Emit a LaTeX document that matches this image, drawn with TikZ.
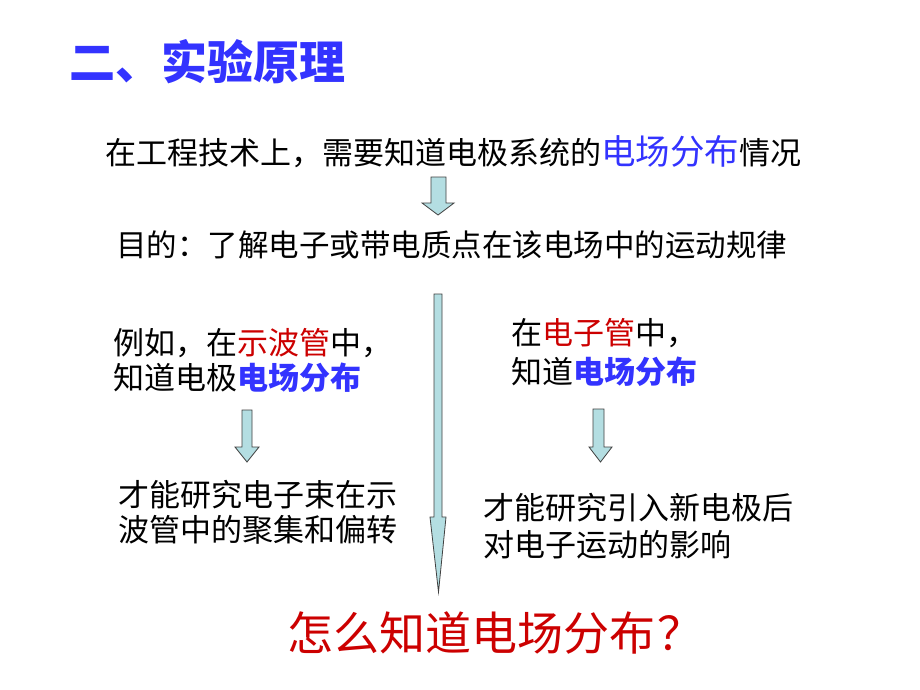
\documentclass[tikz,border=0pt]{standalone}
\usepackage{fontspec}
\setmainfont{Noto Sans CJK SC}
\definecolor{tblue}{RGB}{51,51,255}
\definecolor{tred}{RGB}{204,0,0}
\definecolor{afill}{RGB}{180,222,226}
\tikzset{
  txt/.style={anchor=west,inner sep=0pt,font=\fontsize{31}{36}\selectfont},
  barrow/.style={fill=afill,draw=black!75,line width=0.8pt,line join=miter},
}
\begin{document}
\begin{tikzpicture}[x=1pt,y=-1pt]
\path[use as bounding box,fill=white] (0,0) rectangle (920,690);
% title
\node[anchor=west,inner sep=0pt,font=\fontsize{46}{50}\selectfont\bfseries,text=tblue] (title) at (69,62) {二、实验原理};
% line 1
\node[txt] (l1) at (105,152) {在工程技术上，需要知道电极系统的{\fontsize{34.5}{38}\selectfont\color{tblue}电场分布}情况};
% arrow 1
\path[barrow] (431,177) -- (446,177) -- (446,203) -- (454,203) -- (438,215) -- (422,203) -- (431,203) -- cycle;
% line 2
\node[txt,font=\fontsize{30.5}{36}\selectfont] (l2) at (116,245) {目的：了解电子或带电质点在该电场中的运动规律};
% long arrow
\path[barrow] (434,294) -- (442,294) -- (442,517) -- (446,517) -- (438.5,592) -- (430,517) -- (434,517) -- cycle;
% left block
\node[txt] (a1) at (113,343) {例如，在{\color{tred}示波管}中，};
\node[txt] (a2) at (113,378) {知道电极{\bfseries\color{tblue}电场分布}};
\path[barrow] (242,410) -- (252,410) -- (252,447) -- (259,447) -- (247,462) -- (235,447) -- (242,447) -- cycle;
\node[txt] (a3) at (118,495) {才能研究电子束在示};
\node[txt] (a4) at (118,530) {波管中的聚集和偏转};
% right block
\node[txt] (b1) at (511,333) {在{\color{tred}电子管}中，};
\node[txt] (b2) at (511,372) {知道{\bfseries\color{tblue}电场分布}};
\path[barrow] (593,409) -- (604,409) -- (604,447) -- (612,447) -- (600.5,462) -- (589,447) -- (593,447) -- cycle;
\node[txt] (b3) at (483,508) {才能研究引入新电极后};
\node[txt] (b4) at (483,545) {对电子运动的影响};
% bottom question
\node[anchor=west,inner sep=0pt,font=\fontsize{46}{50}\selectfont,text=tred] (q) at (287,633) {怎么知道电场分布{\hspace{2pt}？}};
\end{tikzpicture}
\end{document}
